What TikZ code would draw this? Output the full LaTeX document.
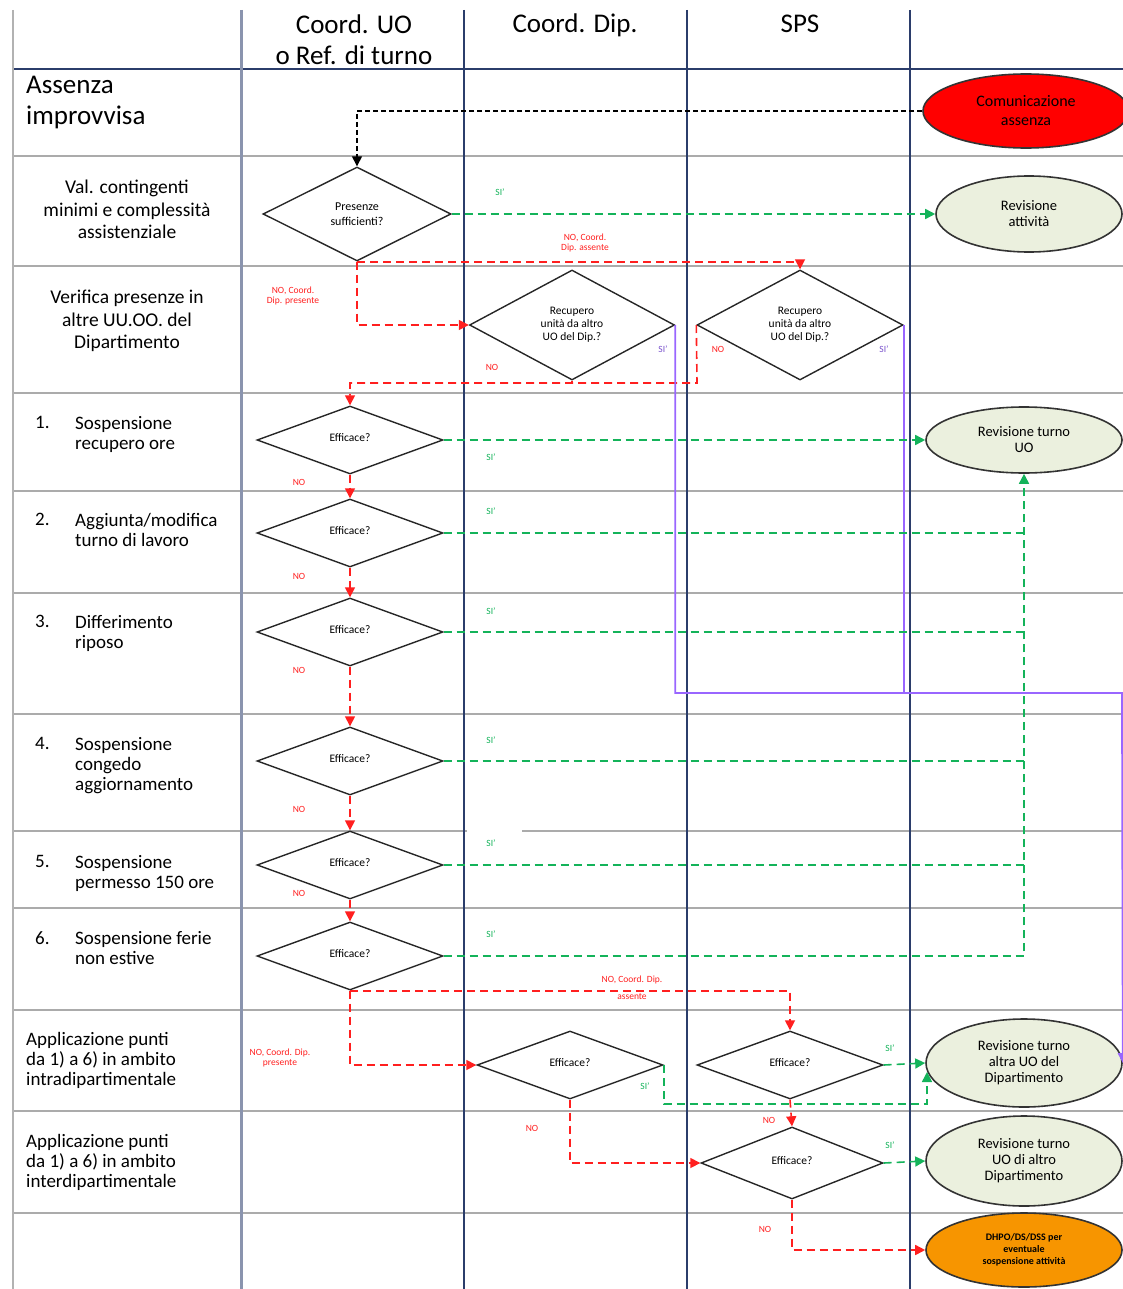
\documentclass[tikz,border=0pt]{standalone}
\usepackage{fontspec}
\setmainfont{Carlito}
\usetikzlibrary{arrows.meta,shapes.geometric}
\definecolor{navy}{HTML}{2B3D6B}
\definecolor{rowgray}{HTML}{ABABAB}
\definecolor{nored}{HTML}{FF1F1F}
\definecolor{sigreen}{HTML}{14B35A}
\definecolor{sipurple}{HTML}{9966FF}
\definecolor{palegreen}{HTML}{EBF0DE}
\definecolor{orangefill}{HTML}{F79500}

\begin{document}
\begin{tikzpicture}[x=1pt,y=-1pt,
  laneline/.style={navy,line width=2pt},
  rowline/.style={rowgray,line width=1.5pt},
  hdr/.style={font=\fontsize{27}{31}\selectfont,align=center,inner sep=0pt},
  lbl/.style={font=\fontsize{19}{20}\selectfont,inner sep=0pt,anchor=north west,align=left},
  clbl/.style={font=\fontsize{19.5}{22.5}\selectfont,inner sep=0pt,anchor=north,align=center},
  dec/.style={diamond,draw=black!85,line width=1.4pt,inner sep=0pt,aspect=2,align=center,
    font=\fontsize{11.5}{13}\selectfont,minimum width=186pt,minimum height=68pt},
  endst/.style={ellipse,draw=black!80,line width=1.6pt,fill=palegreen,inner sep=0pt,align=center,
    font=\fontsize{14.5}{16}\selectfont,minimum width=196pt},
  arr/.style={-{Triangle[length=10pt,width=10pt]}},
  nopath/.style={draw=nored,line width=1.6pt,dash pattern=on 8pt off 5pt},
  sipath/.style={draw=sigreen,line width=1.6pt,dash pattern=on 8pt off 5pt},
  vpath/.style={draw=sipurple,line width=1.8pt},
  notxt/.style={text=nored,font=\fontsize{9.5}{10}\selectfont,inner sep=0pt,align=center},
  sitxt/.style={text=sigreen,font=\fontsize{9.5}{10}\selectfont,inner sep=0pt},
  vtxt/.style={text=sipurple!80!black,font=\fontsize{9.5}{10}\selectfont,inner sep=0pt}]
\useasboundingbox (0,0) rectangle (1123,1289);

% table
\foreach \y in {156,266,393,491,593,714,908,1010,1111,1213}
  \draw[rowline] (13,\y) -- (1123,\y);
\draw[rowline] (13,831) -- (467,831) (522,831) -- (1123,831);
\draw[navy,line width=2pt] (13,69) -- (1123,69);
\draw[gray!60,line width=1.2pt] (13,10) -- (13,1289);
\draw[navy!55,line width=3pt] (241,10) -- (241,1289);
\foreach \x in {464,687,910}
  \draw[laneline] (\x,10) -- (\x,1289);

\node[hdr] (hUO) at (354,40) {Coord. UO\\o Ref. di turno};
\node[hdr] (hDip) at (575,25) {Coord. Dip.};
\node[hdr] (hSPS) at (800,24) {SPS};

\node[lbl,font=\fontsize{27}{31}\selectfont] (lAss) at (26,76) {Assenza\\improvvisa};
\node[clbl] (lVal) at (127,180) {Val. contingenti\\minimi e complessità\\assistenziale};
\node[clbl] (lVer) at (127,290) {Verifica presenze in\\altre UU.OO. del\\Dipartimento};
\node[lbl] (n1) at (35,416) {1.};
\node[lbl] (l1) at (75,416) {Sospensione\\recupero ore};
\node[lbl] (n2) at (35,513) {2.};
\node[lbl] (l2) at (75,513) {Aggiunta/modifica\\turno di lavoro};
\node[lbl] (n3) at (35,615) {3.};
\node[lbl] (l3) at (75,615) {Differimento\\riposo};
\node[lbl] (n4) at (35,737) {4.};
\node[lbl] (l4) at (75,737) {Sospensione\\congedo\\aggiornamento};
\node[lbl] (n5) at (35,855) {5.};
\node[lbl] (l5) at (75,855) {Sospensione\\permesso 150 ore};
\node[lbl] (n6) at (35,931) {6.};
\node[lbl] (l6) at (75,931) {Sospensione ferie\\non estive};
\node[lbl] (lIntra) at (26,1032) {Applicazione punti\\da 1) a 6) in ambito\\intradipartimentale};
\node[lbl] (lInter) at (26,1134) {Applicazione punti\\da 1) a 6) in ambito\\interdipartimentale};

% nodes
\node[ellipse,draw=black!80,line width=1.6pt,fill=red,minimum width=206pt,minimum height=74pt,
  inner sep=0pt,align=center,font=\fontsize{16}{19}\selectfont] (comm) at (1026,111) {Comunicazione\\assenza};
\node[dec,font=\fontsize{12}{15}\selectfont,minimum width=188pt,minimum height=94pt] (pres) at (357,214) {Presenze\\sufficienti?};
\node[endst,minimum width=186pt,minimum height=76pt] (revatt) at (1029,214) {Revisione\\attività};
\node[dec,minimum width=205pt,minimum height=110pt] (dip1) at (572,325) {Recupero\\unità da altro\\UO del Dip.?};
\node[dec,minimum width=206pt,minimum height=110pt] (sps1) at (800,325) {Recupero\\unità da altro\\UO del Dip.?};
\node[dec] (e1) at (350,440) {\raisebox{5pt}{Efficace?}};
\node[dec] (e2) at (350,533) {\raisebox{5pt}{Efficace?}};
\node[dec] (e3) at (350,632) {\raisebox{5pt}{Efficace?}};
\node[dec] (e4) at (350,761) {\raisebox{5pt}{Efficace?}};
\node[dec] (e5) at (350,865) {\raisebox{5pt}{Efficace?}};
\node[dec] (e6) at (350,956) {\raisebox{5pt}{Efficace?}};
\node[endst,minimum height=66pt] (revuo) at (1024,440) {Revisione turno\\UO};
\node[dec] (dip2) at (570,1065) {\raisebox{5pt}{Efficace?}};
\node[dec] (sps2) at (790,1065) {\raisebox{5pt}{Efficace?}};
\node[dec,minimum width=182pt,minimum height=72pt] (sps3) at (792,1163) {\raisebox{5pt}{Efficace?}};
\node[endst,minimum height=88pt] (altra) at (1024,1063) {Revisione turno\\altra UO del\\Dipartimento};
\node[endst,minimum height=90pt] (altdip) at (1024,1161) {Revisione turno\\UO di altro\\Dipartimento};
\node[endst,fill=orangefill,minimum height=74pt,font=\bfseries\fontsize{10}{12}\selectfont] (dhpo) at (1024,1250)
  {DHPO/DS/DSS per\\eventuale\\sospensione attività};

\coordinate (nojoin) at (697,383);
\coordinate (vbend) at (1122,693);
\coordinate (gbend) at (927,1104);
\coordinate (gend) at (927,1072);

% connectors
\draw[black,line width=1.4pt,dash pattern=on 5pt off 3pt,arr] (comm.west) -| (pres.north);
\draw[sipath,arr] (pres.east) -- (revatt.west);
\draw[nopath,arr] (pres.south) -| (sps1.north);
\draw[nopath,arr] (pres.south) |- (dip1.west);
\draw[nopath,arr] (sps1.west) -- (nojoin) -| (e1.north);
\draw[nopath] (dip1.south) -- (dip1.south |- nojoin);
\draw[vpath,arr] (dip1.east) |- (vbend) -- (altra.east);
\draw[vpath] (sps1.east) -- (sps1.east |- vbend);
\foreach \a/\b in {e1/e2,e2/e3,e3/e4,e4/e5,e5/e6}
  \draw[nopath,arr] (\a.south) -- (\b.north);
\draw[sipath,arr] (e1.east) -- (revuo.west);
\foreach \a in {e2,e3,e4,e5}
  \draw[sipath] (\a.east) -- (\a.east -| revuo.south);
\draw[sipath,arr] (e6.east) -| (revuo.south);
\draw[nopath,arr] (e6.south) -| (sps2.north);
\draw[nopath,arr] (e6.south) |- (dip2.west);
\draw[sipath,arr] (sps2.east) -- (altra.west);
\draw[sipath,arr] (dip2.east) |- (gbend) -- (gend);
\draw[nopath,arr] (sps2.south) -- (sps3.north);
\draw[nopath,arr] (dip2.south) |- (sps3.west);
\draw[sipath,arr] (sps3.east) -- (altdip.west);
\draw[nopath,arr] (sps3.south) |- (dhpo.west);

% labels
\node[sitxt] at (500,192) {SI'};
\foreach \y in {457,511,611,740,843,934}
  \node[sitxt] at (491,\y) {SI'};
\node[sitxt] at (890,1048) {SI'};
\node[sitxt] at (645,1086) {SI'};
\node[sitxt] at (890,1145) {SI'};
\node[vtxt] at (663,349) {SI'};
\node[vtxt] at (884,349) {SI'};
\node[notxt] at (585,243) {NO, Coord.\\Dip. assente};
\node[notxt] at (293,296) {NO, Coord.\\Dip. presente};
\node[notxt] at (632,988) {NO, Coord. Dip.\\[7pt]assente};
\node[notxt] at (280,1058) {NO, Coord. Dip.\\presente};
\node[notxt] at (492,367) {NO};
\node[notxt] at (718,349) {NO};
\foreach \y in {482,576,670,809,893}
  \node[notxt] at (299,\y) {NO};
\node[notxt] at (532,1128) {NO};
\node[notxt] at (769,1120) {NO};
\node[notxt] at (765,1229) {NO};
\end{tikzpicture}
\end{document}
